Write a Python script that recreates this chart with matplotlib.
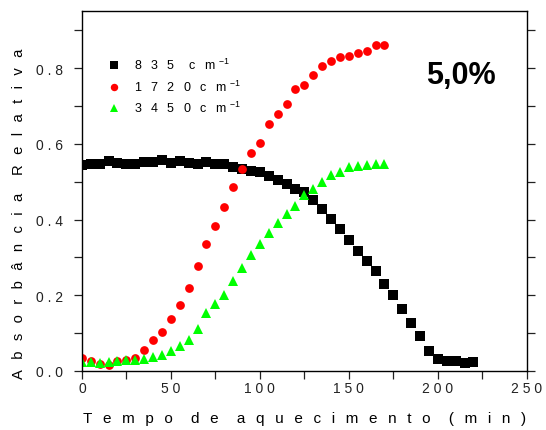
"""Relative absorbance vs heating time (5,0%) for three IR bands."""

import matplotlib
matplotlib.use("Agg")
import matplotlib.pyplot as plt
from matplotlib.ticker import MultipleLocator, FuncFormatter

plt.rcParams["font.family"] = ["Liberation Sans", "DejaVu Sans"]
plt.rcParams["mathtext.fontset"] = "custom"
plt.rcParams["mathtext.rm"] = "Liberation Sans"
plt.rcParams["mathtext.it"] = "Liberation Sans"

# --- data ------------------------------------------------------------------
time_835 = [0, 5, 10, 15, 20, 25, 30, 35, 40, 45, 50, 55, 60, 65, 70, 75, 80,
            85, 90, 95, 100, 105, 110, 115, 120, 125, 130, 135, 140, 145, 150,
            155, 160, 165, 170, 175, 180, 185, 190, 195, 200, 205, 210, 215, 220]
abs_835 = [0.543, 0.546, 0.548, 0.554, 0.550, 0.548, 0.547, 0.551, 0.551,
           0.557, 0.550, 0.556, 0.549, 0.548, 0.551, 0.546, 0.547, 0.538,
           0.533, 0.529, 0.526, 0.514, 0.504, 0.494, 0.482, 0.474, 0.452,
           0.427, 0.401, 0.374, 0.347, 0.318, 0.291, 0.264, 0.229, 0.200,
           0.164, 0.127, 0.093, 0.053, 0.031, 0.026, 0.027, 0.022, 0.024]

time_1720 = [0, 5, 10, 15, 20, 25, 30, 35, 40, 45, 50, 55, 60, 65, 70, 75, 80,
             85, 90, 95, 100, 105, 110, 115, 120, 125, 130, 135, 140, 145, 150,
             155, 160, 165, 170]
abs_1720 = [0.033, 0.026, 0.019, 0.017, 0.027, 0.030, 0.034, 0.055, 0.081,
            0.103, 0.137, 0.175, 0.220, 0.277, 0.335, 0.384, 0.433, 0.486,
            0.533, 0.575, 0.602, 0.652, 0.679, 0.706, 0.744, 0.755, 0.783,
            0.806, 0.819, 0.831, 0.833, 0.839, 0.846, 0.862, 0.862]

time_3450 = time_1720
abs_3450 = [0.023, 0.023, 0.022, 0.024, 0.025, 0.028, 0.029, 0.032, 0.036,
            0.042, 0.052, 0.066, 0.082, 0.111, 0.152, 0.176, 0.202, 0.239,
            0.272, 0.306, 0.335, 0.364, 0.390, 0.416, 0.437, 0.464, 0.480,
            0.500, 0.517, 0.525, 0.539, 0.541, 0.545, 0.547, 0.548]

bands = ["835", "1720", "3450"]
unit = "cm"
sample_label = "5,0%"
x_label = "Tempo de aquecimento (min)"
y_label = "Absorbância Relativa"
# ---------------------------------------------------------------------------

EN, THIN, EM = "\u2002", "\u2009", "\u2003"


def spaced(text, gap=EN + THIN, word_gap=EN + EN + THIN):
    # the original (Origin export) uses very wide letter spacing
    return word_gap.join(gap.join(w) for w in text.split())


def legend_label(band):
    gap = "  " + THIN
    sep = gap if len(band) > 3 else EM + THIN
    return gap.join(band) + sep + gap.join(unit) + " " + r"$^{-1}$"


fig = plt.figure(figsize=(5.46, 4.31), dpi=100)
ax = fig.add_axes([0.150, 0.137, 0.815, 0.834])

ax.plot(time_835, abs_835, ls="none", marker="s", ms=6.5, mew=0,
        color="#000000", label=legend_label(bands[0]))
ax.plot(time_1720, abs_1720, ls="none", marker="o", ms=6.3, mew=0,
        color="#ff0000", label=legend_label(bands[1]))
ax.plot(time_3450, abs_3450, ls="none", marker="^", ms=7.2, mew=0,
        color="#00ff00", label=legend_label(bands[2]))

ax.set_xlim(0, 250)
ax.set_ylim(0, 0.95)
ax.xaxis.set_major_locator(MultipleLocator(50))
ax.xaxis.set_minor_locator(MultipleLocator(25))
ax.yaxis.set_major_locator(MultipleLocator(0.2))
ax.yaxis.set_minor_locator(MultipleLocator(0.1))
ax.xaxis.set_major_formatter(FuncFormatter(lambda v, p: " ".join(f"{v:.0f}")))
ax.yaxis.set_major_formatter(FuncFormatter(lambda v, p: " ".join(f"{v:.1f}")))

ax.tick_params(axis="both", which="both", direction="out", length=5.5,
               width=0.9, labelsize=10, colors="#222222")
ax.tick_params(axis="x", which="both", top=False, pad=1.5)
ax.tick_params(axis="y", which="both", right=True, pad=8)
for s in ax.spines.values():
    s.set_linewidth(1.0)

ax.set_xlabel(spaced(x_label), fontsize=11, labelpad=12)
ax.set_ylabel(spaced(y_label), fontsize=10.6)
ax.yaxis.set_label_coords(-0.125, 0.44)

ax.text(0.852, 0.824, sample_label, transform=ax.transAxes, fontsize=22,
        fontweight="bold", ha="center", va="center")

ax.legend(loc="upper left", bbox_to_anchor=(0.045, 0.89), frameon=False,
          fontsize=9, handlelength=1.0, handletextpad=1.1,
          labelspacing=0.5, borderpad=0, markerscale=0.85)

fig.savefig("out.png", dpi=100)
